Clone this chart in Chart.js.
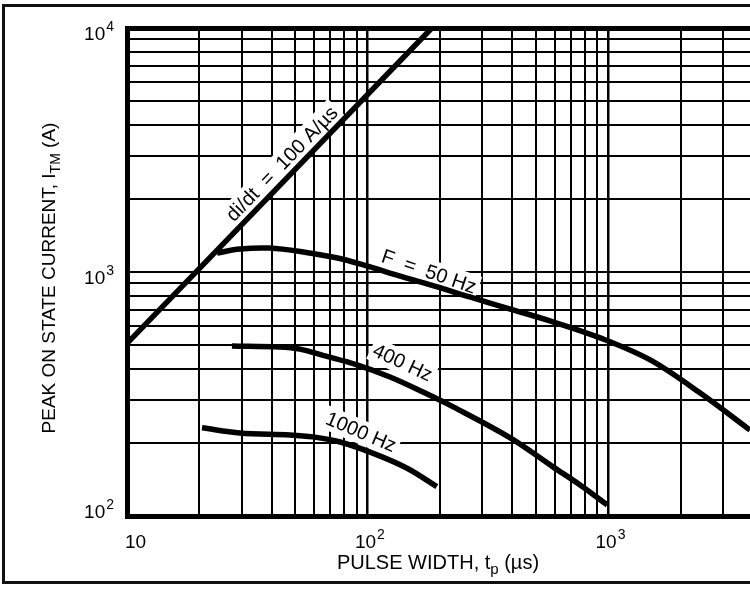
<!DOCTYPE html>
<html>
<head>
<meta charset="utf-8">
<title>Peak on state current vs pulse width</title>
<script src="https://cdn.jsdelivr.net/npm/chart.js@4.4.1/dist/chart.umd.min.js"></script>
<style>
    html, body { margin: 0; padding: 0; background: #fff; }
    #wrap { position: relative; width: 750px; height: 589px; overflow: hidden; }
    #frame {
        position: absolute; left: 2px; top: 4px; width: 800px; height: 580px;
        border: 3px solid #111; box-sizing: border-box;
    }
    #chart { position: absolute; left: 0; top: 0; }
</style>
</head>
<body>
<div id="wrap">
    <div id="frame"></div>
    <canvas id="chart" width="750" height="589"></canvas>
</div>
<script>
// Grid lines (log decades, 1..9 per decade)
const xGrid = [10, 20, 30, 40, 50, 60, 70, 80, 90,
               100, 200, 300, 400, 500, 600, 700, 800, 900,
               1000, 2000, 3000];
const yGrid = [100, 200, 300, 400, 500, 600, 700, 800, 900,
               1000, 2000, 3000, 4000, 5000, 6000, 7000, 8000, 9000, 10000];

// Tick labels (base, exponent)
const xTickValues = [10, 100, 1000];
const xTickLabels = [['10', ''], ['10', '2'], ['10', '3']];
const yTickValues = [100, 1000, 10000];
const yTickLabels = [['10', '2'], ['10', '3'], ['10', '4']];

// Series: pulse width (µs) and peak current (A)
const didtX = [10, 185];
const didtY = [510, 10000];

const f50X = [23.7, 29.5, 39, 54, 75, 96, 140, 195, 266, 392, 590, 927, 1496, 2415, 3890];
const f50Y = [1197, 1242, 1253, 1208, 1141, 1069, 955, 869, 790, 705, 625, 537, 436, 319, 225];

const f400X = [27.3, 43.2, 52.4, 65.3, 90.4, 124, 170, 227, 392, 590, 765, 991];
const f400Y = [498, 493, 483, 455, 416, 371, 322, 280, 209, 159, 134, 111];

const f1000X = [20.5, 29.5, 47.6, 59.3, 76.9, 105, 146, 194];
const f1000Y = [230, 219, 215, 211, 201, 181, 157, 132];

// Curve labels, anchored in data coordinates
const labelTexts = ['di/dt  =  100 A/µs', 'F  =  50 Hz', '400 Hz', '1000 Hz'];
const labelX = [44, 180, 140, 94];
const labelY = [2780, 1005, 426, 221];
const labelAngles = [-46, 19, 25, 23];

const FONT = '"Liberation Sans", Arial, sans-serif';
const LABEL_SIZE = 20;

function pts(xs, ys) {
    return xs.map((x, i) => ({ x: x, y: ys[i] }));
}

function isDecade(v) {
    const l = Math.log10(v);
    return Math.abs(l - Math.round(l)) < 1e-9;
}

// draw "10" + superscript
function drawPower(ctx, base, exp, x, y, align) {
    ctx.font = '19px ' + FONT;
    const wb = ctx.measureText(base).width;
    ctx.font = '14px ' + FONT;
    const we = exp ? ctx.measureText(exp).width + 1 : 0;
    let left = x;
    if (align === 'right') left = x - wb - we;
    ctx.textAlign = 'left';
    ctx.textBaseline = 'alphabetic';
    ctx.font = '19px ' + FONT;
    ctx.fillText(base, left, y);
    if (exp) {
        ctx.font = '14px ' + FONT;
        ctx.fillText(exp, left + wb + 1, y - 9);
    }
}

function drawParts(ctx, parts, cx, y) {
    let total = 0;
    parts.forEach(p => {
        ctx.font = p[1] + 'px ' + FONT;
        total += ctx.measureText(p[0]).width;
    });
    let x = cx - total / 2;
    parts.forEach(p => {
        ctx.font = p[1] + 'px ' + FONT;
        ctx.fillText(p[0], x, y + p[2]);
        x += ctx.measureText(p[0]).width;
    });
}

const labelPlugin = {
    id: 'labelPlugin',
    beforeDatasetsDraw(chart) {
        // white boxes behind curve labels (they break the grid in the original)
        const ctx = chart.ctx;
        const xs = chart.scales.x, ys = chart.scales.y;
        ctx.save();
        ctx.font = LABEL_SIZE + 'px ' + FONT;
        labelTexts.forEach((t, i) => {
            const w = ctx.measureText(t).width + 6;
            ctx.save();
            ctx.translate(xs.getPixelForValue(labelX[i]), ys.getPixelForValue(labelY[i]));
            ctx.rotate(labelAngles[i] * Math.PI / 180);
            ctx.fillStyle = '#fff';
            ctx.fillRect(-w / 2, -12, w, 24);
            ctx.restore();
        });
        ctx.restore();
    },
    afterDatasetsDraw(chart) {
        const ctx = chart.ctx;
        const xs = chart.scales.x, ys = chart.scales.y;
        const area = chart.chartArea;
        ctx.save();
        ctx.fillStyle = '#000';

        // curve labels
        ctx.font = LABEL_SIZE + 'px ' + FONT;
        ctx.textAlign = 'center';
        ctx.textBaseline = 'middle';
        labelTexts.forEach((t, i) => {
            ctx.save();
            ctx.translate(xs.getPixelForValue(labelX[i]), ys.getPixelForValue(labelY[i]));
            ctx.rotate(labelAngles[i] * Math.PI / 180);
            ctx.fillText(t, 0, 1);
            ctx.restore();
        });

        // x tick labels
        xTickValues.forEach((v, i) => {
            const px = xs.getPixelForValue(v);
            ctx.font = '19px ' + FONT;
            const wb = ctx.measureText(xTickLabels[i][0]).width;
            const left = Math.max(px - wb / 2 - 2, area.left - 2);
            drawPower(ctx, xTickLabels[i][0], xTickLabels[i][1], left, area.bottom + 32, 'left');
        });

        // y tick labels
        yTickValues.forEach((v, i) => {
            const py = ys.getPixelForValue(v);
            const base = Math.min(py + 12, area.bottom + 2);
            drawPower(ctx, yTickLabels[i][0], yTickLabels[i][1], area.left - 13, base, 'right');
        });

        // x axis title
        ctx.textBaseline = 'alphabetic';
        ctx.textAlign = 'left';
        const xParts = [['PULSE WIDTH, t', 20, 0], ['p', 15, 5], [' (µs)', 20, 0]];
        drawParts(ctx, xParts, 438, 569);

        // y axis title
        ctx.save();
        ctx.translate(55, 278);
        ctx.rotate(-Math.PI / 2);
        const yParts = [['PEAK ON STATE CURRENT, I', 19, 0], ['TM', 14, 5], [' (A)', 19, 0]];
        drawParts(ctx, yParts, 0, 0);
        ctx.restore();

        ctx.restore();
    }
};

const lineStyle = {
    borderColor: '#000',
    borderWidth: 5.5,
    pointRadius: 0,
    fill: false,
    tension: 0.35,
    borderCapStyle: 'butt',
    borderJoinStyle: 'round'
};

new Chart(document.getElementById('chart').getContext('2d'), {
    type: 'line',
    data: {
        datasets: [
            Object.assign({ label: 'di/dt = 100 A/µs', data: pts(didtX, didtY) }, lineStyle, { tension: 0 }),
            Object.assign({ label: 'F = 50 Hz', data: pts(f50X, f50Y) }, lineStyle),
            Object.assign({ label: '400 Hz', data: pts(f400X, f400Y) }, lineStyle),
            Object.assign({ label: '1000 Hz', data: pts(f1000X, f1000Y) }, lineStyle)
        ]
    },
    options: {
        responsive: false,
        animation: false,
        events: [],
        layout: { padding: { left: 127, top: 28, right: 0, bottom: 73 } },
        plugins: { legend: { display: false }, tooltip: { enabled: false } },
        scales: {
            x: {
                type: 'logarithmic',
                min: 10,
                max: 3890,
                afterBuildTicks: scale => { scale.ticks = xGrid.map(v => ({ value: v })); },
                ticks: { display: false },
                grid: {
                    color: '#000',
                    drawTicks: false,
                    lineWidth: c => (c.tick && isDecade(c.tick.value)) ? 2.5 : 2
                },
                border: { display: true, color: '#000', width: 5 }
            },
            y: {
                type: 'logarithmic',
                min: 100,
                max: 10000,
                afterBuildTicks: scale => { scale.ticks = yGrid.map(v => ({ value: v })); },
                ticks: { display: false },
                grid: {
                    color: '#000',
                    drawTicks: false,
                    lineWidth: c => (c.tick && c.tick.value === 10000) ? 5 : 2
                },
                border: { display: true, color: '#000', width: 5 }
            }
        }
    },
    plugins: [labelPlugin]
});
</script>
</body>
</html>
